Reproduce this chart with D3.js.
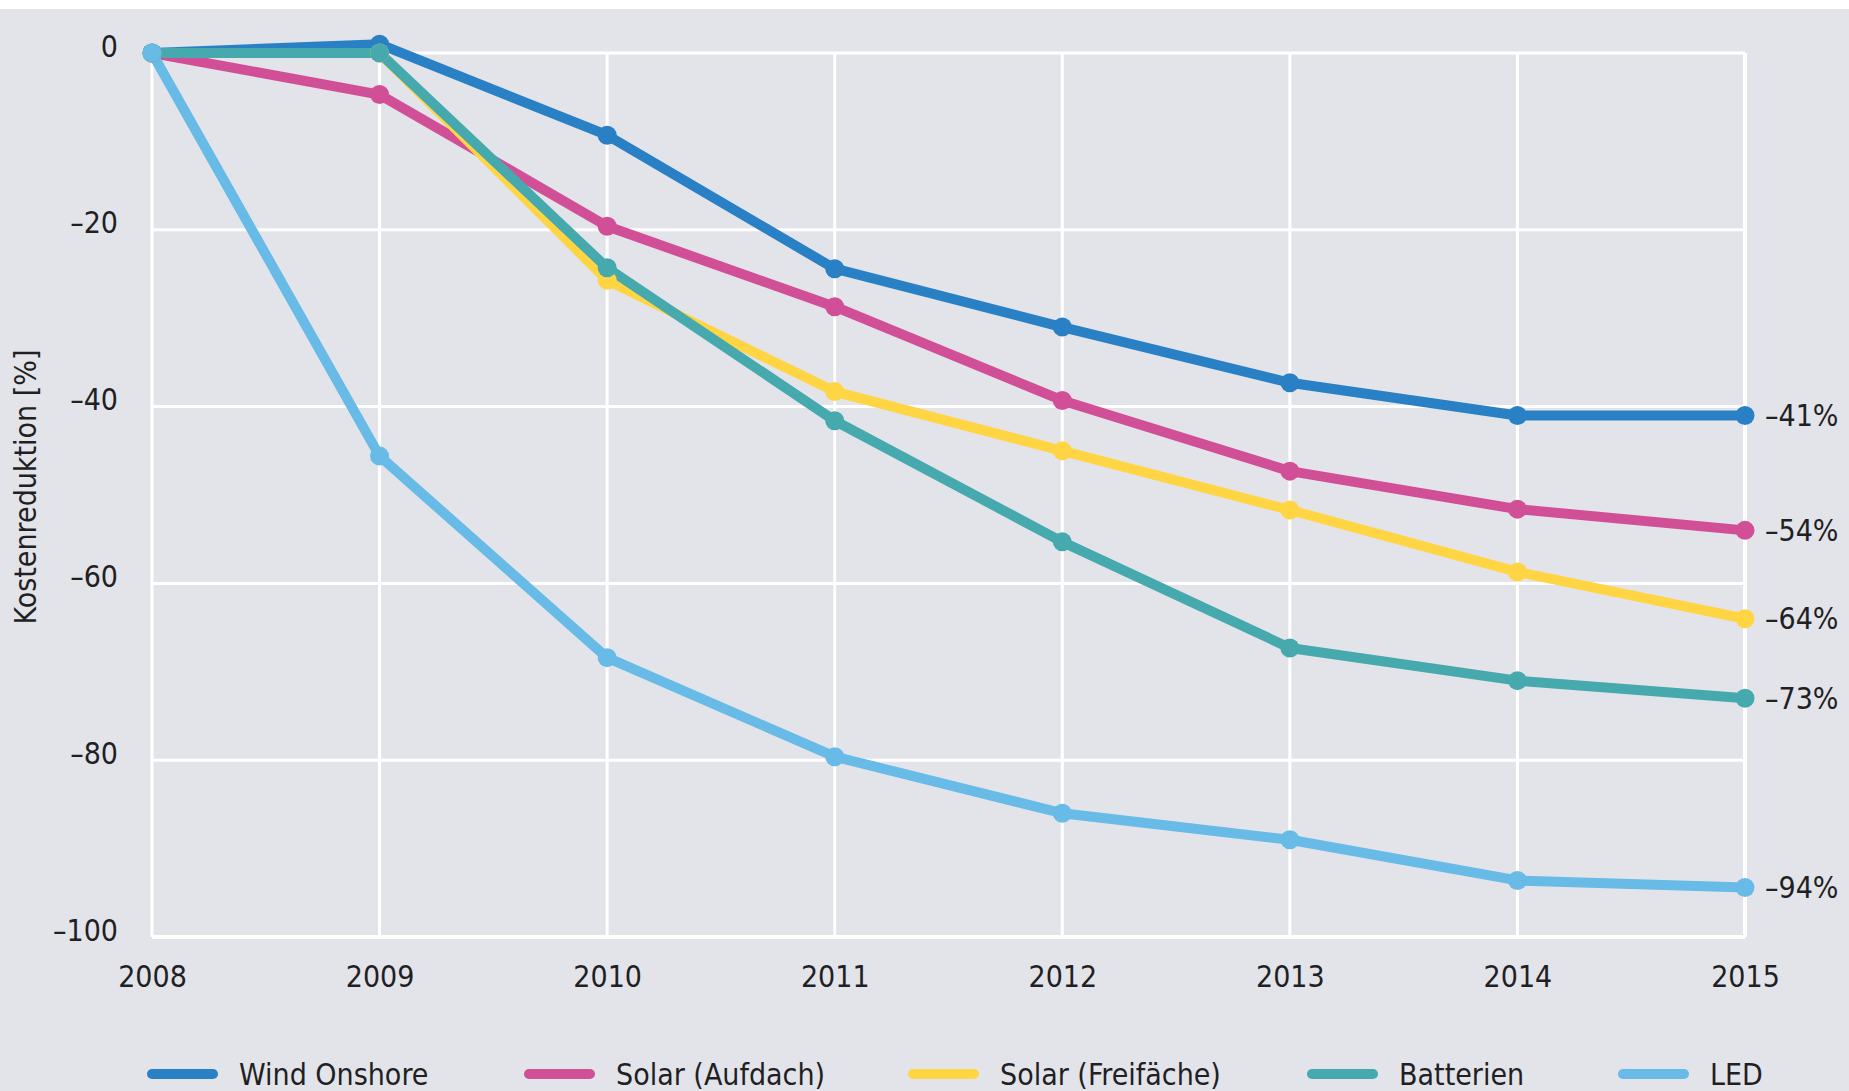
<!DOCTYPE html>
<html>
<head>
<meta charset="utf-8">
<script src="https://cdn.jsdelivr.net/npm/d3@7"></script>
<style>
  body { margin: 0; background: #fff; }
  svg text { font-family: "Liberation Sans Narrow", "DejaVu Sans Condensed", "Roboto", sans-serif; fill: #1f1f24; }
</style>
</head>
<body>
<div id="viz"></div>
<script>
var years = [2008, 2009, 2010, 2011, 2012, 2013, 2014, 2015];
var y_ticks = [0, -20, -40, -60, -80, -100];

var wind_onshore = [0, 1, -9.3, -24.4, -31, -37.3, -41, -41];
var solar_aufdach = [0, -4.7, -19.6, -28.7, -39.3, -47.3, -51.6, -54];
var solar_freiflaeche = [0, 0, -25.7, -38.3, -45, -51.7, -58.7, -64];
var batterien = [0, 0, -24.3, -41.6, -55.3, -67.3, -71, -73];
var led = [0, -45.6, -68.4, -79.6, -86, -89, -93.6, -94.4];

var series_names = ["Wind Onshore", "Solar (Aufdach)", "Solar (Freifäche)", "Batterien", "LED"];
var end_labels = ["–41%", "–54%", "–64%", "–73%", "–94%"];

var color = {
  "Wind Onshore": "#2a80c5",
  "Solar (Aufdach)": "#d14f97",
  "Solar (Freifäche)": "#ffd544",
  "Batterien": "#46a9ae",
  "LED": "#67bbe6"
};

var series = [wind_onshore, solar_aufdach, solar_freiflaeche, batterien, led].map(function(v, i){
  return { name: series_names[i], label: end_labels[i], values: v };
});

var width = 1849, height = 1091;
var svg = d3.select("#viz").append("svg").attr("width", width).attr("height", height);

// grey background
svg.append("rect")
    .attr("x", 0).attr("y", 9)
    .attr("width", width).attr("height", height - 9)
    .attr("fill", "#e3e4e9");

var x = d3.scaleLinear().domain([2008, 2015]).range([152, 1745]);
var y = d3.scaleLinear().domain([0, -100]).range([53, 937]);

// grid
var grid = svg.append("g").attr("class", "grid");
grid.selectAll("line.h")
  .data(y_ticks)
  .enter().append("line")
    .attr("x1", x(2008)).attr("x2", x(2015))
    .attr("y1", function(d){ return y(d); })
    .attr("y2", function(d){ return y(d); })
    .attr("stroke", "#fff")
    .attr("stroke-width", function(d){ return d == -100 ? 4 : 3; });

grid.selectAll("line.v")
  .data(years)
  .enter().append("line")
    .attr("y1", y(0)).attr("y2", y(-100))
    .attr("x1", function(d){ return x(d); })
    .attr("x2", function(d){ return x(d); })
    .attr("stroke", "#fff")
    .attr("stroke-width", function(d){ return d == 2015 ? 4 : 3; });

// axes labels
var yAxis = d3.axisLeft(y).tickValues(y_ticks).tickSize(0).tickPadding(0)
    .tickFormat(function(d){ return d < 0 ? "–" + Math.abs(d) : d; });
var gy = svg.append("g").attr("transform", "translate(118,0)").call(yAxis);
gy.select(".domain").remove();
gy.selectAll("text").style("font-size", "30px").attr("fill", "#1f1f24").attr("dy", "0.1em");

var xAxis = d3.axisBottom(x).tickValues(years).tickSize(0).tickPadding(0).tickFormat(d3.format("d"));
var gx = svg.append("g").attr("transform", "translate(0,966)").call(xAxis);
gx.select(".domain").remove();
gx.selectAll("text").style("font-size", "30px").attr("fill", "#1f1f24");

svg.append("text")
    .attr("transform", "translate(36,487) rotate(-90)")
    .attr("text-anchor", "middle")
    .style("font-size", "30px")
    .text("Kostenreduktion [%]");

// lines
var line = d3.line()
    .x(function(d, i){ return x(years[i]); })
    .y(function(d){ return y(d); });

svg.selectAll("path.series")
  .data(series)
  .enter().append("path")
    .attr("class", "series")
    .attr("d", function(d){ return line(d.values); })
    .attr("fill", "none")
    .attr("stroke", function(d){ return color[d.name]; })
    .attr("stroke-width", 10)
    .attr("stroke-linejoin", "round");

// markers
series.forEach(function(s){
  svg.append("g").selectAll("circle")
    .data(s.values)
    .enter().append("circle")
      .attr("cx", function(d, i){ return x(years[i]); })
      .attr("cy", function(d){ return y(d); })
      .attr("r", 9.5)
      .attr("fill", color[s.name]);
});

// end labels
svg.selectAll("text.end")
  .data(series)
  .enter().append("text")
    .attr("class", "end")
    .attr("x", x(2015) + 20)
    .attr("y", function(d){ return y(d.values[d.values.length - 1]); })
    .attr("dy", "0.35em")
    .style("font-size", "30px")
    .text(function(d){ return d.label; });

// legend
var legend_x = [147, 524, 908, 1307, 1618];
var lg = svg.selectAll("g.legend")
  .data(series)
  .enter().append("g")
    .attr("class", "legend")
    .attr("transform", function(d, i){ return "translate(" + legend_x[i] + ",1074)"; });

lg.append("line")
    .attr("x1", 5).attr("x2", 66)
    .attr("stroke", function(d){ return color[d.name]; })
    .attr("stroke-width", 10)
    .attr("stroke-linecap", "round");

lg.append("text")
    .attr("x", 92)
    .attr("dy", "0.35em")
    .style("font-size", "30px")
    .text(function(d){ return d.name; });
</script>
</body>
</html>
